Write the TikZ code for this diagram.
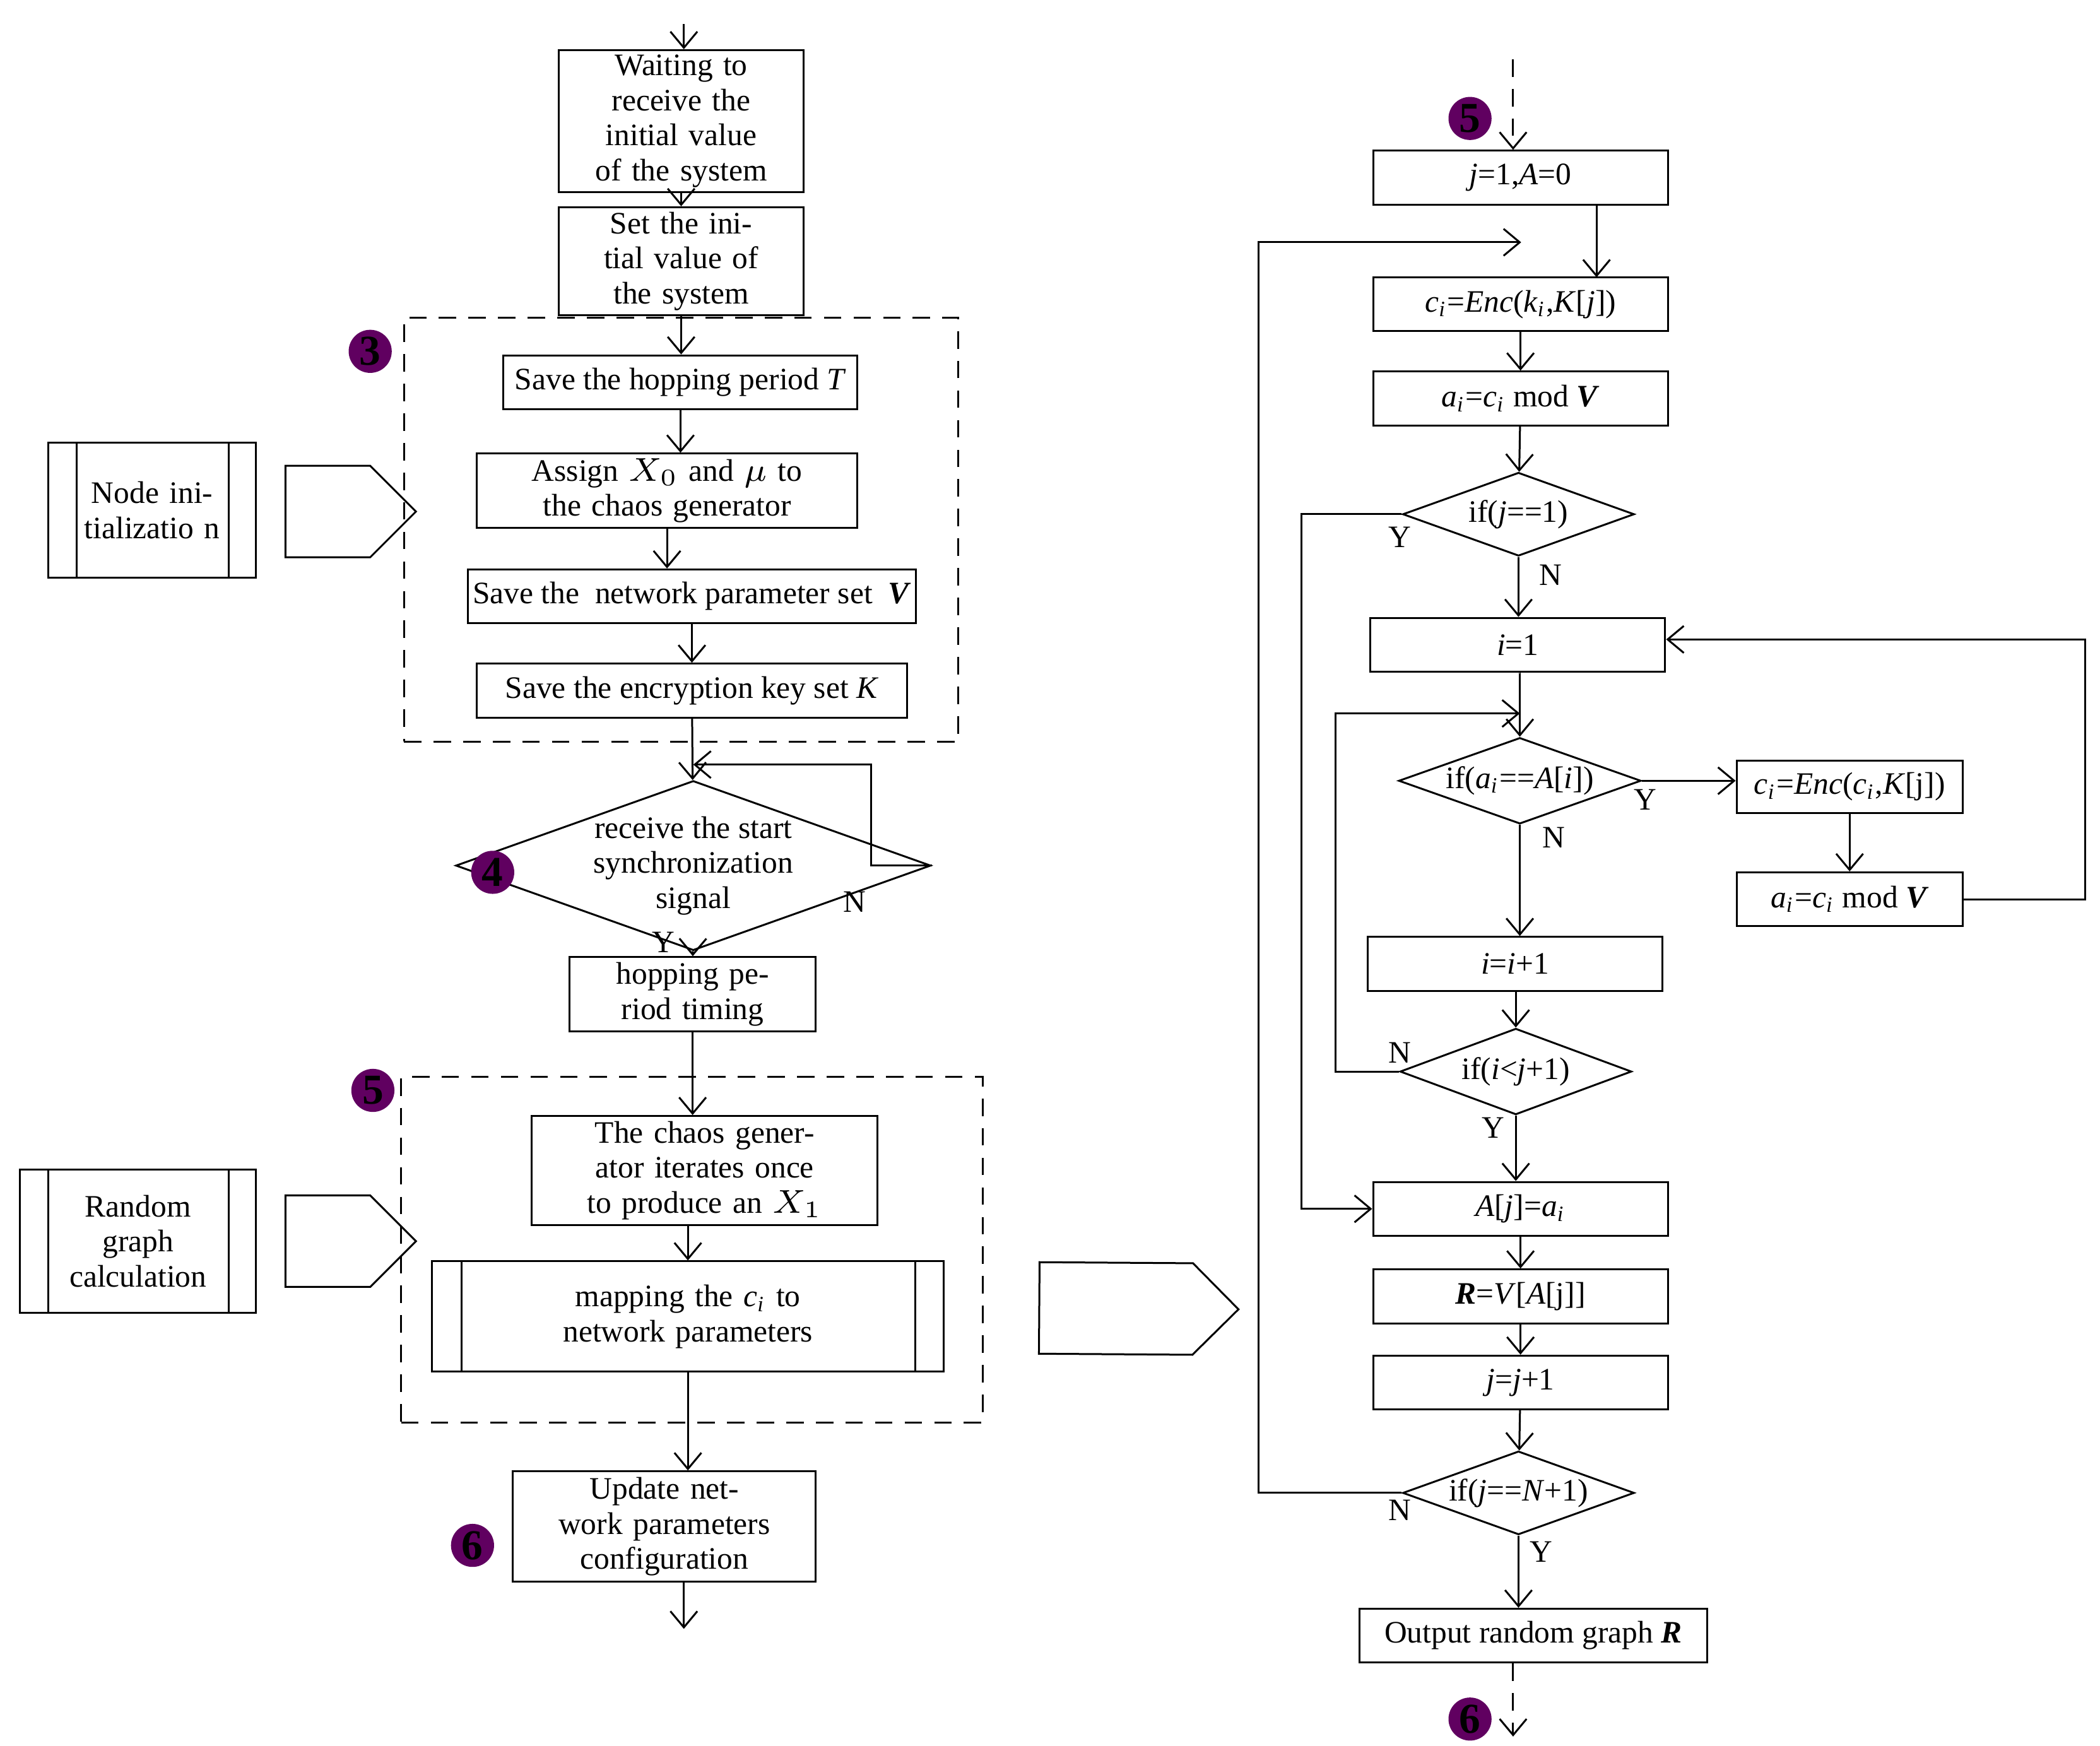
\documentclass[tikz,border=0pt]{standalone}
\usepackage{fontspec}
\setmainfont{Liberation Serif}
\usetikzlibrary{positioning,shapes.geometric,shapes.arrows,arrows.meta}
\begin{document}
\begin{tikzpicture}[font=\fontsize{6.6}{7.4}\selectfont]
\tikzstyle{box}=[rectangle, draw=black, thin, inner sep=1pt, align=center]
\tikzstyle{dec}=[diamond, draw=black, thin, aspect=2.8, inner sep=0pt, align=center]
\tikzstyle{connect}=[-{Straight Barb[length=1.2mm,width=2mm]}, thin]
\tikzstyle{dashbox}=[rectangle, draw=black, thin, dash pattern=on 1.3mm off 0.9mm]
\tikzstyle{num}=[circle, fill=violet!75!black, text=black, inner sep=0pt, minimum size=3.2mm, font=\fontsize{9}{9}\selectfont\bfseries]
\tikzstyle{big}=[single arrow, draw=black, thin, minimum width=6.8mm, single arrow head extend=0mm, single arrow head indent=0mm, inner sep=0pt]
\tikzstyle{lab}=[inner sep=0pt]
\useasboundingbox (0,0) rectangle (15.6,-12.97);
% left column
\coordinate (ltop) at (5.08,-0.18);
\node[box, minimum width=1.82cm, minimum height=1cm, text width=1.7cm] (wait) at (5.06,-0.90) {Waiting to receive the initial value of the system};
\node[box, minimum width=1.82cm, minimum height=0.62cm, text width=1.75cm] (set) at (5.06,-1.94) {Set the initial value of the system};
\node[dashbox, minimum width=4.12cm, minimum height=3.15cm] (dash1) at (5.06,-3.935) {};
\node[box, minimum width=2.63cm, minimum height=0.4cm] (saveT) at (5.055,-2.84) {Save the hopping period \textit{T}};
\node[box, minimum width=2.83cm, minimum height=0.55cm, text width=2.75cm] (assign) at (4.955,-3.645) {Assign $X_0$ and $\mu$ to the chaos generator};
\node[box, minimum width=3.2cm, minimum height=0.4cm] (saveV) at (5.14,-4.43) {Save the \ network parameter set \ \textbf{\textit{V}}};
\node[box, minimum width=3.2cm, minimum height=0.4cm] (saveK) at (5.14,-5.13) {Save the encryption key set \textit{K}};
\node[dec, minimum width=2.4cm, minimum height=1cm] (recv) at (5.15,-6.43) {receive the start\\synchronization\\signal};
\coordinate (rloop) at (6.47,-5.68);
\node[box, minimum width=1.83cm, minimum height=0.55cm, text width=1.7cm] (hop) at (5.145,-7.385) {hopping period timing};
\node[dashbox, minimum width=4.32cm, minimum height=2.57cm] (dash2) at (5.14,-9.285) {};
\node[box, minimum width=2.57cm, minimum height=0.81cm, text width=2.5cm] (chaos) at (5.235,-8.695) {The chaos generator iterates once to produce an $X_1$};
\node[box, minimum width=3.8cm, minimum height=0.82cm, text width=3cm] (map) at (5.11,-9.78) {mapping the \textit{c\textsubscript{i}} to network parameters};
\draw (3.43,-9.37) -- (3.43,-10.19) (6.80,-9.37) -- (6.80,-10.19);
\node[box, minimum width=2.25cm, minimum height=0.82cm, text width=2cm] (upd) at (4.935,-11.34) {Update network parameters configuration};
\coordinate (lbot) at (5.08,-12.1);
\node[box, minimum width=1.54cm, minimum height=1cm, text width=1.05cm] (init) at (1.13,-3.79) {Node initializatio n};
\draw (0.57,-3.29) -- (0.57,-4.29) (1.70,-3.29) -- (1.70,-4.29);
\node[box, minimum width=1.75cm, minimum height=1.06cm, text width=1.2cm] (rand) at (1.025,-9.22) {Random graph calculation};
\draw (0.36,-8.69) -- (0.36,-9.75) (1.70,-8.69) -- (1.70,-9.75);
\node[big, minimum height=0.97cm] (arr1) at (2.435,-3.80) {};
\node[big, minimum height=0.97cm] (arr2) at (2.435,-9.22) {};
\node[big, minimum height=1.48cm, rotate=-0.4] (arr3) at (8.29,-9.72) {};
% left connectors
\draw[connect] (ltop) -- (wait.north -| ltop);
\draw[connect] (wait) -- (set);
\draw[connect] (set) -- (saveT.north -| set);
\draw[connect] (saveT) -- (saveT.south |- assign.north);
\draw[connect] (assign.south) -- (assign.south |- saveV.north);
\draw[connect] (saveV) -- (saveK);
\draw[connect] (saveK) -- (recv);
\draw[connect] (recv.east) -| (rloop) -- (recv.north |- rloop);
\draw[connect] (recv) -- (hop);
\draw[connect] (hop) -- (hop.south |- chaos.north);
\draw[connect] (chaos.south -| map) -- (map);
\draw[connect] (map.south) -- (map.south |- upd.north);
\draw[connect] (upd.south -| lbot) -- (lbot);
\node[lab] (lN) at (6.35,-6.70) {N};
\node[lab] (lY) at (4.93,-7.00) {Y};
% right column
\coordinate (rtop) at (11.24,-0.44);
\node[box, minimum width=2.19cm, minimum height=0.4cm] (j1) at (11.295,-1.32) {\textit{j}=1,\textit{A}=0};
\node[box, minimum width=2.19cm, minimum height=0.4cm] (enc) at (11.295,-2.26) {\textit{c\textsubscript{i}}=\textit{Enc}(\textit{k\textsubscript{i}},\textit{K}[\textit{j}])};
\node[box, minimum width=2.19cm, minimum height=0.4cm] (amod) at (11.295,-2.96) {\textit{a\textsubscript{i}}=\textit{c\textsubscript{i}} mod \textbf{\textit{V}}};
\node[dec, minimum width=1.72cm, minimum height=0.62cm] (d1) at (11.28,-3.82) {if(\textit{j}==1)};
\node[box, minimum width=2.19cm, minimum height=0.4cm] (i1) at (11.275,-4.79) {\textit{i}=1};
\node[dec, minimum width=1.8cm, minimum height=0.64cm] (d2) at (11.29,-5.80) {if(\textit{a\textsubscript{i}}==\textit{A}[\textit{i}])};
\node[box, minimum width=1.68cm, minimum height=0.39cm] (enc2) at (13.74,-5.845) {\textit{c\textsubscript{i}}=\textit{Enc}(\textit{c\textsubscript{i}},\textit{K}[j])};
\node[box, minimum width=1.68cm, minimum height=0.4cm] (amod2) at (13.74,-6.68) {\textit{a\textsubscript{i}}=\textit{c\textsubscript{i}} mod \textbf{\textit{V}}};
\node[box, minimum width=2.19cm, minimum height=0.4cm] (inc) at (11.255,-7.16) {\textit{i}=\textit{i}+1};
\node[dec, minimum width=1.72cm, minimum height=0.64cm] (d3) at (11.26,-7.96) {if(\textit{i}<\textit{j}+1)};
\node[box, minimum width=2.19cm, minimum height=0.4cm] (Aj) at (11.295,-8.98) {\textit{A}[\textit{j}]=\textit{a\textsubscript{i}}};
\node[box, minimum width=2.19cm, minimum height=0.4cm] (R) at (11.295,-9.63) {\textbf{\textit{R}}=\textit{V}[\textit{A}[j]]};
\node[box, minimum width=2.19cm, minimum height=0.4cm] (jinc) at (11.295,-10.27) {\textit{j}=\textit{j}+1};
\node[dec, minimum width=1.72cm, minimum height=0.62cm] (d4) at (11.28,-11.09) {if(\textit{j}==\textit{N}+1)};
\node[box, minimum width=2.58cm, minimum height=0.4cm] (out) at (11.39,-12.15) {Output random graph \textbf{\textit{R}}};
\coordinate (rbot) at (11.24,-12.9);
% right connectors
\draw[connect, dash pattern=on 1.3mm off 0.9mm] (rtop) -- (j1.north -| rtop);
\draw[connect] (11.86,-1.52) -- (11.86,-2.06);
\draw[connect] (enc) -- (amod);
\draw[connect] (amod) -- (d1);
\draw[connect] (d1.west) -- (9.67,-3.82) |- (Aj.west);
\draw[connect] (d1) -- (d1.south |- i1.north);
\draw[connect] (i1) -- (i1.south -| d2) -- (d2);
\draw[connect] (d2.east) -- (enc2.west |- d2.east);
\draw[connect] (enc2) -- (amod2);
\draw[connect] (amod2.east) -- (15.49,-6.68) |- (i1.east |- 0,-4.75);
\draw[connect] (d2) -- (d2.south |- inc.north);
\draw[connect] (inc.south -| d3) -- (d3);
\draw[connect] (d3.west) -- (9.92,-7.96) |- (11.29,-5.30);
\draw[connect] (d3) -- (d3.south |- Aj.north);
\draw[connect] (Aj) -- (R);
\draw[connect] (R) -- (jinc);
\draw[connect] (jinc) -- (d4);
\draw[connect] (d4.west) -- (9.35,-11.09) |- (11.30,-1.80);
\draw[connect] (d4) -- (d4.south |- out.north);
\draw[connect, dash pattern=on 1.3mm off 0.9mm] (out.south -| rbot) -- (rbot);
\node[lab] (r1Y) at (10.40,-3.99) {Y};
\node[lab] (r1N) at (11.52,-4.27) {N};
\node[lab] (r2Y) at (12.22,-5.94) {Y};
\node[lab] (r2N) at (11.54,-6.22) {N};
\node[lab] (r3N) at (10.40,-7.82) {N};
\node[lab] (r3Y) at (11.09,-8.38) {Y};
\node[lab] (r4N) at (10.40,-11.22) {N};
\node[lab] (r4Y) at (11.45,-11.53) {Y};
% numbers
\node[num] (n3) at (2.75,-2.61) {3};
\node[num] (n4) at (3.66,-6.48) {4};
\node[num] (n5) at (2.77,-8.10) {5};
\node[num] (n6) at (3.51,-11.48) {6};
\node[num] (m5) at (10.92,-0.88) {5};
\node[num] (m6) at (10.92,-12.77) {6};
\end{tikzpicture}
\end{document}
